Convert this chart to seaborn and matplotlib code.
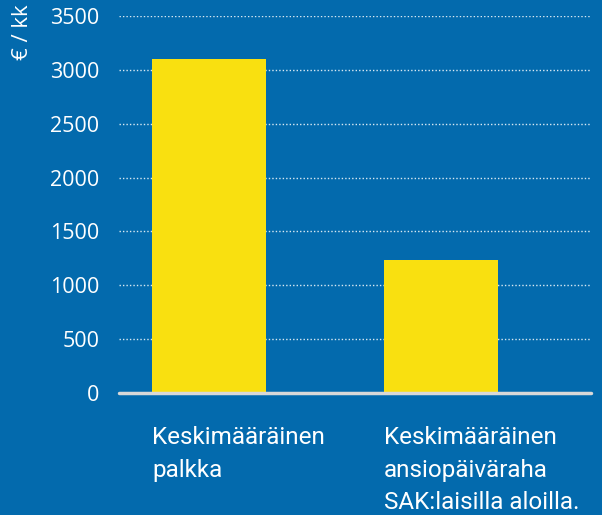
import matplotlib
matplotlib.use("Agg")
import matplotlib.pyplot as plt
import seaborn as sns
import pandas as pd

categories = ["Keskimääräinen\npalkka", "Keskimääräinen\nansiopäiväraha\nSAK:laisilla aloilla."]
values = [3100, 1235]
yticks = [0, 500, 1000, 1500, 2000, 2500, 3000, 3500]
ylabel = "€ / kk"

BG = "#036aad"
YEL = "#f9e010"

sns.set_theme(style="white")
plt.rcParams['font.family'] = ['Roboto', 'DejaVu Sans']

df = pd.DataFrame({"cat": categories, "val": values})

fig = plt.figure(figsize=(6.02, 5.15), dpi=100, facecolor=BG)
ax = fig.add_axes([119/602, 1-393/515, 472/602, 377/515])
ax.set_facecolor(BG)

sns.barplot(data=df, x="cat", y="val", color=YEL, saturation=1, width=0.49, ax=ax, zorder=2)
for p in ax.patches:
    p.set_edgecolor("none")

ax.set_xlim(-0.388, 1.646)
ax.set_ylim(0, 3500)
ax.set_yticks(yticks)
ax.set_yticklabels([str(v) for v in yticks], color="white", fontsize=15.5,
                   family=["Open Sans", "DejaVu Sans"])
ax.tick_params(axis="y", length=0, pad=14)
for y in yticks[1:]:
    ax.axhline(y, color="white", lw=1, ls=(0, (1, 1.5)), alpha=0.85, zorder=1)
ax.axhline(0, color="#d8d8d8", lw=2.5, zorder=3, clip_on=False)

ax.set_xticks([])
ax.set_xlabel("")
ax.set_ylabel("")
for s in ax.spines.values():
    s.set_visible(False)

# category labels left-aligned at bar left edges
for i, lab in enumerate(categories):
    ax.annotate(lab, xy=(i - 0.245, 0), xycoords=("data", "data"),
                xytext=(0, -24), textcoords="offset points",
                ha="left", va="top", color="white", fontsize=17.5, linespacing=1.52)

fig.text(23/602, 1-4/515, ylabel, rotation=90, color="white", fontsize=16,
         ha="center", va="top", family=["Open Sans", "DejaVu Sans"])

fig.savefig("out.png", dpi=100, facecolor=BG)
